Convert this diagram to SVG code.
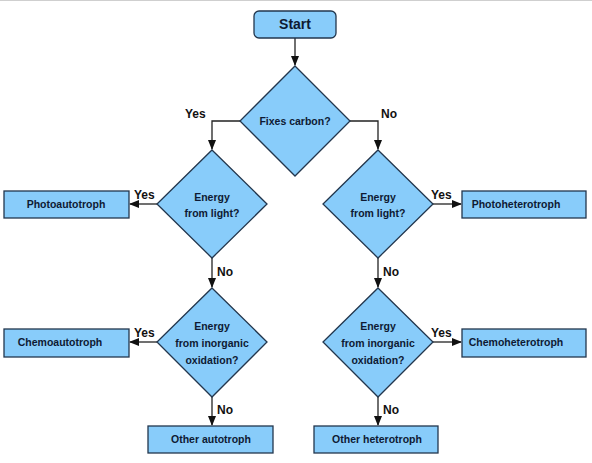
<svg xmlns="http://www.w3.org/2000/svg" width="592" height="463" viewBox="0 0 592 463">
<style>
.n{fill:#88CCFA;stroke:#22364d;stroke-width:1.3}
.t{font-family:"Liberation Sans",Arial,sans-serif;font-weight:bold;font-size:10.5px;fill:#0e1a33;text-anchor:middle}
.l{font-family:"Liberation Sans",Arial,sans-serif;font-weight:bold;font-size:12px;fill:#111}
.c{fill:none;stroke:#222;stroke-width:1.3}
</style>
<defs>
<marker id="a" markerWidth="10" markerHeight="8" refX="9" refY="4" orient="auto" markerUnits="userSpaceOnUse">
<path d="M0,0 L10,4 L0,8 z" fill="#111"/>
</marker>
</defs>
<rect x="0" y="0" width="592" height="463" fill="#fff"/>
<line x1="0" y1="0.5" x2="592" y2="0.5" stroke="#cfcfcf"/>
<g id="connectors">
<path class="c" d="M295,38 V65" marker-end="url(#a)"/>
<path class="c" d="M240,121 H212 V149" marker-end="url(#a)"/>
<path class="c" d="M350,121 H378 V149" marker-end="url(#a)"/>
<path class="c" d="M157,204 H130" marker-end="url(#a)"/>
<path class="c" d="M433,204 H461" marker-end="url(#a)"/>
<path class="c" d="M212,258 V287" marker-end="url(#a)"/>
<path class="c" d="M378,258 V287" marker-end="url(#a)"/>
<path class="c" d="M157,342 H130" marker-end="url(#a)"/>
<path class="c" d="M433,342 H461" marker-end="url(#a)"/>
<path class="c" d="M212,397 V425" marker-end="url(#a)"/>
<path class="c" d="M378,397 V425" marker-end="url(#a)"/>
<text class="l" x="185" y="118">Yes</text>
<text class="l" x="381" y="118">No</text>
<text class="l" x="134" y="199">Yes</text>
<text class="l" x="431" y="199">Yes</text>
<text class="l" x="217" y="276">No</text>
<text class="l" x="383" y="276">No</text>
<text class="l" x="134" y="337">Yes</text>
<text class="l" x="431" y="337">Yes</text>
<text class="l" x="217" y="414">No</text>
<text class="l" x="383" y="414">No</text>
</g>
<g id="start">
<rect class="n" x="254" y="11" width="82" height="27" rx="5"/>
<text class="t" x="295" y="29" style="font-size:14px">Start</text>
</g>
<g id="fixes-carbon">
<polygon class="n" points="295,66 350,121 295,176 240,121"/>
<text class="t" x="295" y="125">Fixes carbon?</text>
</g>
<g id="light-left">
<polygon class="n" points="212,150 267,204 212,258 157,204"/>
<text class="t" x="212" y="201">Energy</text>
<text class="t" x="212" y="217">from light?</text>
</g>
<g id="light-right">
<polygon class="n" points="378,150 433,204 378,258 323,204"/>
<text class="t" x="378" y="201">Energy</text>
<text class="t" x="378" y="217">from light?</text>
</g>
<g id="inorg-left">
<polygon class="n" points="212,288 267,342 212,397 157,342"/>
<text class="t" x="212" y="330">Energy</text>
<text class="t" x="212" y="347">from inorganic</text>
<text class="t" x="212" y="364">oxidation?</text>
</g>
<g id="inorg-right">
<polygon class="n" points="378,288 433,342 378,397 323,342"/>
<text class="t" x="378" y="330">Energy</text>
<text class="t" x="378" y="347">from inorganic</text>
<text class="t" x="378" y="364">oxidation?</text>
</g>
<g id="photoautotroph">
<rect class="n" x="4" y="191" width="125" height="27"/>
<text class="t" x="66" y="208">Photoautotroph</text>
</g>
<g id="photoheterotroph">
<rect class="n" x="462" y="191" width="124" height="27"/>
<text class="t" x="516" y="208">Photoheterotroph</text>
</g>
<g id="chemoautotroph">
<rect class="n" x="4" y="329" width="125" height="28"/>
<text class="t" x="60" y="346">Chemoautotroph</text>
</g>
<g id="chemoheterotroph">
<rect class="n" x="462" y="329" width="124" height="28"/>
<text class="t" x="516" y="346">Chemoheterotroph</text>
</g>
<g id="other-autotroph">
<rect class="n" x="148" y="426" width="125" height="27"/>
<text class="t" x="211" y="443">Other autotroph</text>
</g>
<g id="other-heterotroph">
<rect class="n" x="314" y="426" width="124" height="27"/>
<text class="t" x="377" y="443">Other heterotroph</text>
</g>
</svg>
